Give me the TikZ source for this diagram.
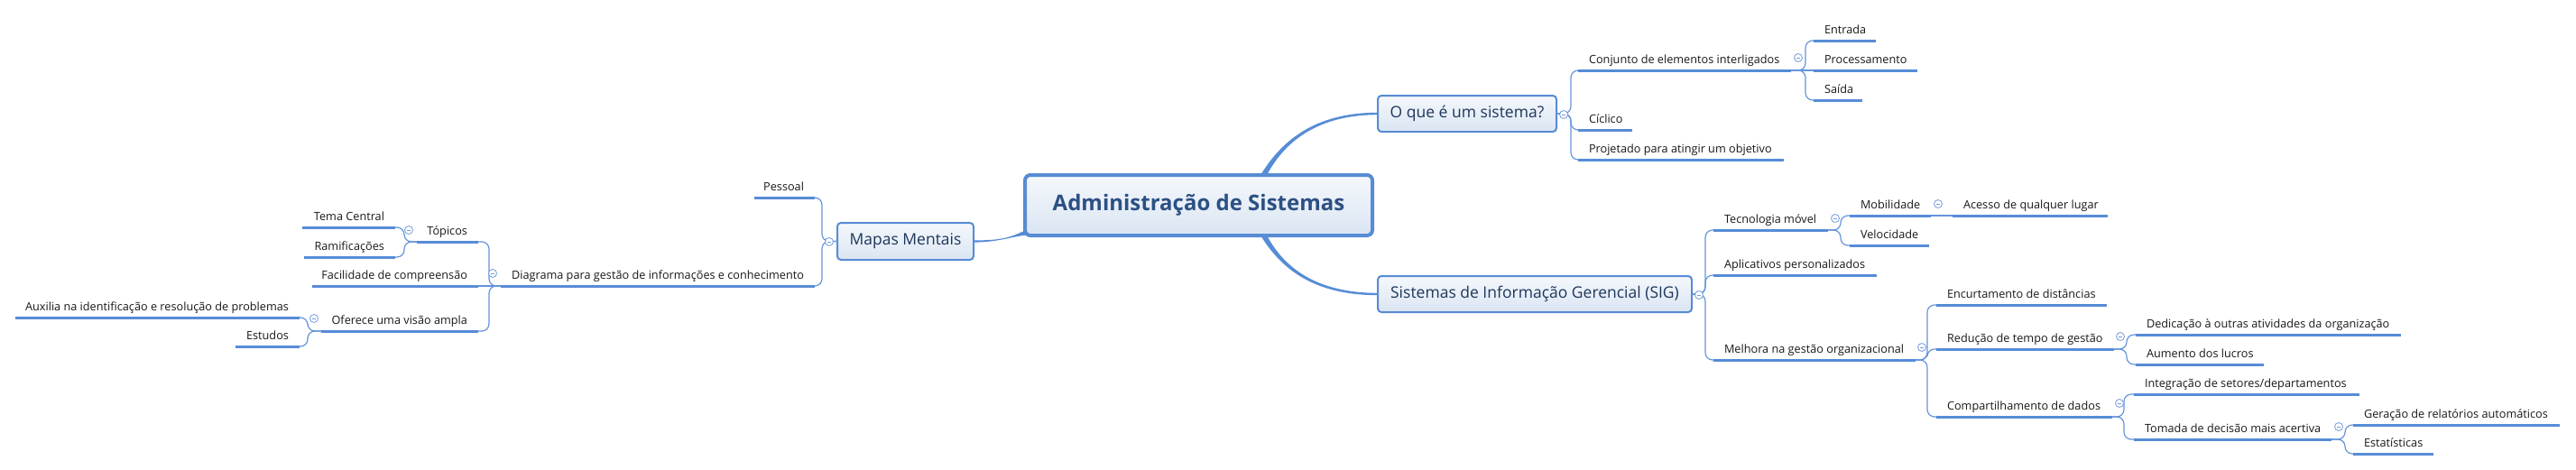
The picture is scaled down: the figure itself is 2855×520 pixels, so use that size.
\documentclass[tikz,border=0pt]{standalone}
\usepackage{fontspec}
\setmainfont{Open Sans}
\usetikzlibrary{backgrounds}
\definecolor{lineblue}{RGB}{86,140,214}
\definecolor{brblue}{RGB}{100,148,218}
\definecolor{boxborder}{RGB}{88,140,212}
\definecolor{boxtop}{RGB}{245,248,252}
\definecolor{boxbot}{RGB}{218,229,243}
\definecolor{maintext}{RGB}{44,80,132}
\definecolor{subtext}{RGB}{30,54,90}
\definecolor{tptext}{RGB}{25,25,25}
\definecolor{tgl}{RGB}{115,155,220}
\newcommand\rtxt[2]{\makebox[#1][l]{#2}}
\newcommand\ltxt[2]{\makebox[#1][r]{#2}}
\tikzset{
 mainbox/.style={draw=boxborder, line width=4pt, rounded corners=6pt, top color=boxtop, bottom color=boxbot, font=\fontsize{24}{28}\selectfont\bfseries, text=maintext, inner sep=0pt, outer sep=0pt},
 subbox/.style={draw=boxborder, line width=2pt, rounded corners=4pt, top color=boxtop, bottom color=boxbot, font=\fontsize{17.5}{21}\selectfont, text=subtext, inner sep=0pt, outer sep=0pt, minimum height=40pt},
 tp/.style={font=\fontsize{12.7}{15}\selectfont, text=tptext, inner xsep=12pt, inner ysep=8pt, text height=10pt, text depth=0pt, outer sep=0pt},
 rt/.style={tp, anchor=south west},
 lt/.style={tp, anchor=south east},
 ul/.style={draw=lineblue, line width=3pt},
 br/.style={draw=brblue, line width=1.2pt, rounded corners=8pt},
 tog/.style={circle, draw=tgl, line width=0.8pt, fill=white, minimum size=9pt, inner sep=0pt,
   path picture={\draw[tgl, line width=0.8pt] ([xshift=-2.3pt]path picture bounding box.center) -- ([xshift=2.3pt]path picture bounding box.center);}},
 branch/.style={fill=lineblue},
}
\begin{document}
\begin{tikzpicture}[x=1pt,y=-1pt]
\useasboundingbox (0,0) rectangle (2855,520);
% ---------- boxes
\node[mainbox, minimum width=385pt, minimum height=67pt] (central) at (1328.5,227.5) {Administração de Sistemas};
\node[subbox, minimum width=198pt] (obox) at (1626,126) {O que é um sistema?};
\node[subbox, minimum width=348pt] (sig) at (1701,326) {Sistemas de Informação Gerencial (SIG)};
\node[subbox, minimum width=151pt, minimum height=41pt] (mapas) at (1003.5,267.5) {Mapas Mentais};
% ---------- right: O que e um sistema
\node[rt] (conj) at (1749,78) {\rtxt{212pt}{Conjunto de elementos interligados}};
\node[rt] (ent) at (2010,45) {\rtxt{45pt}{Entrada}};
\node[rt] (proc) at (2010,78) {\rtxt{91pt}{Processamento}};
\node[rt] (sai) at (2010,111) {\rtxt{30pt}{Saída}};
\node[rt] (cicl) at (1749,144) {\rtxt{36pt}{Cíclico}};
\node[rt] (proj) at (1749,177) {\rtxt{204pt}{Projetado para atingir um objetivo}};
% ---------- right: SIG
\node[rt] (tec) at (1899,255) {\rtxt{103pt}{Tecnologia móvel}};
\node[rt] (mob) at (2050,239) {\rtxt{66pt}{Mobilidade}};
\node[rt] (ace) at (2164,239) {\rtxt{148pt}{Acesso de qualquer lugar}};
\node[rt] (vel) at (2050,272) {\rtxt{64pt}{Velocidade}};
\node[rt] (apl) at (1899,305) {\rtxt{157pt}{Aplicativos personalizados}};
\node[rt] (mel) at (1899,399) {\rtxt{200pt}{Melhora na gestão organizacional}};
\node[rt] (enc) at (2146,338) {\rtxt{165pt}{Encurtamento de distâncias}};
\node[rt] (red) at (2146,387) {\rtxt{173pt}{Redução de tempo de gestão}};
\node[rt] (ded) at (2367,371) {\rtxt{270pt}{Dedicação à outras atividades da organização}};
\node[rt] (aum) at (2367,404) {\rtxt{118pt}{Aumento dos lucros}};
\node[rt] (comp) at (2146,462) {\rtxt{171pt}{Compartilhamento de dados}};
\node[rt] (integ) at (2365,437) {\rtxt{226pt}{Integração de setores/departamentos}};
\node[rt] (tom) at (2365,487) {\rtxt{195pt}{Tomada de decisão mais acertiva}};
\node[rt] (ger) at (2608,471) {\rtxt{205pt}{Geração de relatórios automáticos}};
\node[rt] (est) at (2608,503) {\rtxt{65pt}{Estatísticas}};
% ---------- left: Mapas Mentais
\node[lt] (pes) at (903,219) {\ltxt{43pt}{Pessoal}};
\node[lt] (diag) at (903,317) {\ltxt{324pt}{Diagrama para gestão de informações e conhecimento}};
\node[lt] (top) at (530,268) {\ltxt{44pt}{Tópicos}};
\node[lt] (tema) at (438,252) {\ltxt{79pt}{Tema Central}};
\node[lt] (ram) at (438,285) {\ltxt{77pt}{Ramificações}};
\node[lt] (fac) at (530,317) {\ltxt{160pt}{Facilidade de compreensão}};
\node[lt] (ofe) at (530,367) {\ltxt{150pt}{Oferece uma visão ampla}};
\node[lt] (aux) at (332,352) {\ltxt{291pt}{Auxilia na identificação e resolução de problemas}};
\node[lt] (estu) at (332,384) {\ltxt{47pt}{Estudos}};
% ---------- main branches (under the boxes)
\begin{pgfonlayer}{background}
\fill[white] (0,0) rectangle (2855,520);
\fill[branch] ([xshift=67.5pt,yshift=-2pt]central.north) .. controls +(23,-39) and +(-71,0) .. ([yshift=1.2pt]obox.west)
  -- ([yshift=-1.2pt]obox.west) .. controls +(-69,0) and +(19,-37) .. ([xshift=74.5pt,yshift=-2pt]central.north) -- cycle;
\fill[branch] ([xshift=67.5pt,yshift=2pt]central.south) .. controls +(23,39) and +(-71,0) .. ([yshift=-1.2pt]sig.west)
  -- ([yshift=1.2pt]sig.west) .. controls +(-69,0) and +(19,37) .. ([xshift=74.5pt,yshift=2pt]central.south) -- cycle;
\fill[branch] ([xshift=2pt,yshift=-27pt]central.west) .. controls +(-20,10) and +(28,0) .. ([yshift=1.1pt]mapas.east)
  -- ([yshift=-1.1pt]mapas.east) .. controls +(26,0) and +(-18,2) .. ([xshift=2pt,yshift=-33pt]central.west) -- cycle;
\end{pgfonlayer}
% ---------- braces
\foreach \c in {conj,cicl,proj} \draw[br] (obox.east) -- ++(16,0) |- (\c.south west);
\foreach \c in {ent,sai} \draw[br] (conj.south east) -- ++(16,0) |- (\c.south west);
\draw[br] (conj.south east) -- (proc.south west);
\foreach \c in {tec,apl,mel} \draw[br] (sig.east) -- ++(15,0) |- (\c.south west);
\foreach \c in {mob,vel} \draw[br] (tec.south east) -- ++(14,0) |- (\c.south west);
\draw[br] (mob.south east) -- (ace.south west);
\foreach \c in {enc,red,comp} \draw[br] (mel.south east) -- ++(13,0) |- (\c.south west);
\foreach \c in {ded,aum} \draw[br] (red.south east) -- ++(14,0) |- (\c.south west);
\foreach \c in {integ,tom} \draw[br] (comp.south east) -- ++(13,0) |- (\c.south west);
\foreach \c in {ger,est} \draw[br] (tom.south east) -- ++(15,0) |- (\c.south west);
\foreach \c in {pes,diag} \draw[br] (mapas.west) -- ++(-17,0) |- (\c.south east);
\foreach \c in {top,ofe} \draw[br] (diag.south west) -- ++(-13,0) |- (\c.south east);
\draw[br] (diag.south west) -- (fac.south east);
\foreach \c in {tema,ram} \draw[br] (top.south west) -- ++(-14,0) |- (\c.south east);
\foreach \c in {aux,estu} \draw[br] (ofe.south west) -- ++(-15,0) |- (\c.south east);
% ---------- underlines
\foreach \n in {conj,ent,proc,sai,cicl,proj,tec,mob,ace,vel,apl,mel,enc,red,ded,aum,comp,integ,tom,ger,est,pes,diag,top,tema,ram,fac,ofe,aux,estu}
  \draw[ul] (\n.south west) -- (\n.south east);
% ---------- collapse toggles
\node[tog] (t1) at (1733,127) {};
\node[tog] (t2) at (1993,64) {};
\node[tog] (t3) at (1883,327) {};
\node[tog] (t4) at (2034,242) {};
\node[tog] (t5) at (2148,226) {};
\node[tog] (t6) at (2130,385) {};
\node[tog] (t7) at (2350,373) {};
\node[tog] (t8) at (2349,447) {};
\node[tog] (t9) at (2592,473) {};
\node[tog] (t10) at (919,268) {};
\node[tog] (t11) at (546,303) {};
\node[tog] (t12) at (453,255) {};
\node[tog] (t13) at (348,353) {};
\end{tikzpicture}
\end{document}
